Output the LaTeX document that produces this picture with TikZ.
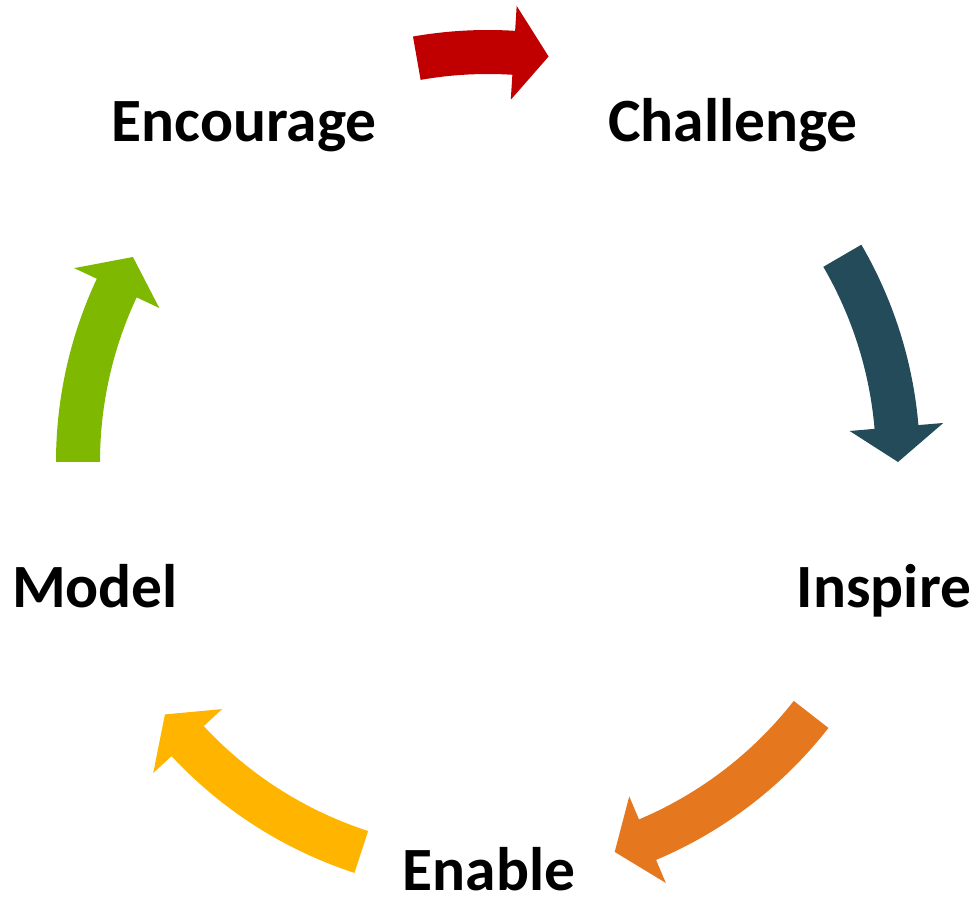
\documentclass[tikz,border=0pt]{standalone}
\usepackage{fontspec}
\setmainfont{Carlito}
\definecolor{cred}{HTML}{C00000}
\definecolor{cteal}{HTML}{244B5A}
\definecolor{corange}{HTML}{E5781F}
\definecolor{cyellow}{HTML}{FFB400}
\definecolor{cgreen}{HTML}{7FB800}
\newcommand{\cyclearrow}[3]{%
  \pgfmathsetmacro{\hb}{#3+4.9}%
  \fill[#1] (#2:432pt) arc[start angle=#2, end angle=\hb, radius=432pt]
    -- (\hb:457pt) -- (#3:410pt) -- (\hb:363pt) -- (\hb:388pt)
    arc[start angle=\hb, end angle=#2, radius=388pt] -- cycle;}
\begin{document}
\begin{tikzpicture}[x=1pt,y=1pt,
  lbl/.style={anchor=base, inner sep=0pt, font=\fontsize{61.5}{72}\selectfont\bfseries}]
\useasboundingbox (0,0) rectangle (972,899);
\node[lbl] (encourage) at (244,757) {Encourage};
\node[lbl] (challenge) at (733,757) {Challenge};
\node[lbl] (inspire) at (884,291) {Inspire};
\node[lbl] (enable) at (489,8) {Enable};
\node[lbl] (model) at (95,291) {Model};
\coordinate (O) at (488,437);
\begin{scope}[shift={(O)}]
  \cyclearrow{cred}{100}{81.5}
  \cyclearrow{cteal}{30.2}{0}
  \cyclearrow{corange}{-38}{-72}
  \cyclearrow{cyellow}{252}{218}
  \cyclearrow{cgreen}{180}{150}
\end{scope}
\end{tikzpicture}
\end{document}
